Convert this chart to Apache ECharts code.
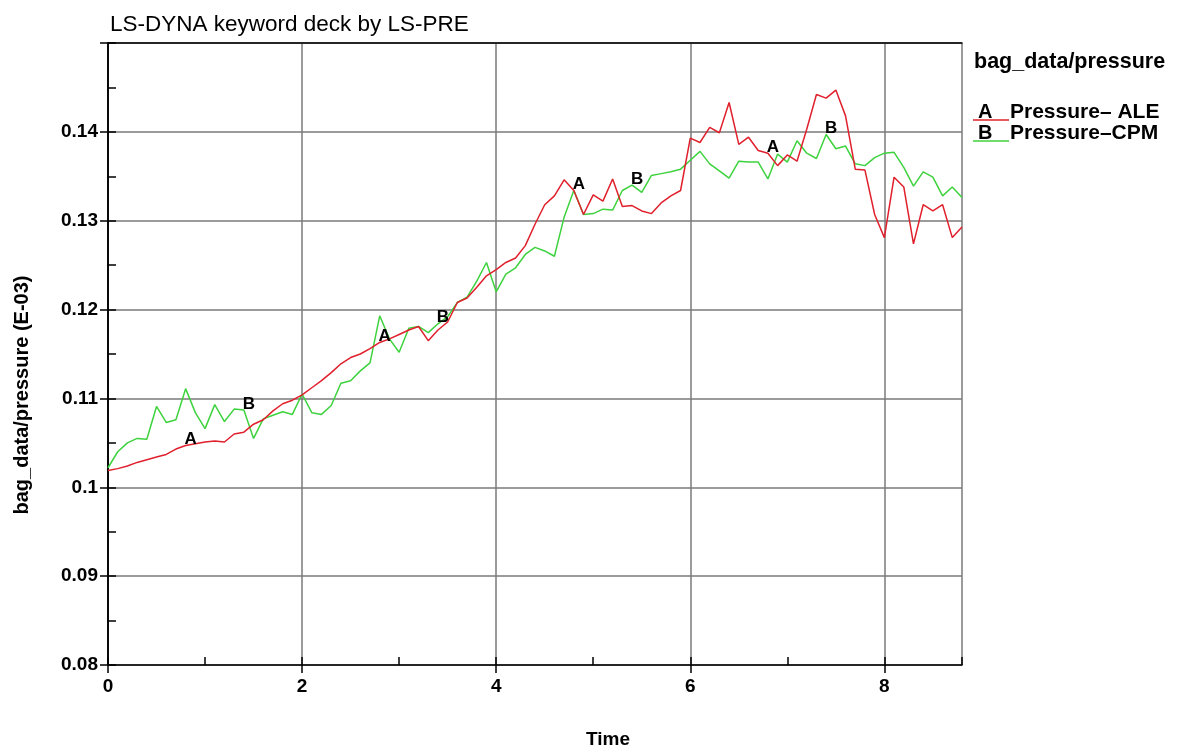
<!DOCTYPE html>
<html><head><meta charset="utf-8">
<script src="https://cdn.jsdelivr.net/npm/echarts@6/dist/echarts.min.js"></script>
<style>html,body{margin:0;padding:0;background:#fff}#c{width:1180px;height:752px}</style>
</head><body><div id="c"></div>
<script>
// ---- data ----
const times = [0.0,0.1,0.2,0.3,0.4,0.5,0.6,0.7,0.8,0.9,1.0,1.1,1.2,1.3,1.4,1.5,1.6,1.7,1.8,1.9,
  2.0,2.1,2.2,2.3,2.4,2.5,2.6,2.7,2.8,2.9,3.0,3.1,3.2,3.3,3.4,3.5,3.6,3.7,3.8,3.9,
  4.0,4.1,4.2,4.3,4.4,4.5,4.6,4.7,4.8,4.9,5.0,5.1,5.2,5.3,5.4,5.5,5.6,5.7,5.8,5.9,
  6.0,6.1,6.2,6.3,6.4,6.5,6.6,6.7,6.8,6.9,7.0,7.1,7.2,7.3,7.4,7.5,7.6,7.7,7.8,7.9,
  8.0,8.1,8.2,8.3,8.4,8.5,8.6,8.7,8.8];
const aleValues = [0.1019,0.1021,0.1024,0.1028,0.1031,0.1034,0.1037,0.1043,0.1047,0.1049,
  0.1051,0.1052,0.1051,0.1060,0.1062,0.1071,0.1076,0.1086,0.1094,0.1098,
  0.1104,0.1112,0.1120,0.1129,0.1139,0.1146,0.1150,0.1156,0.1163,0.1167,
  0.1172,0.1177,0.1181,0.1165,0.1177,0.1186,0.1208,0.1213,0.1225,0.1238,
  0.1245,0.1253,0.1258,0.1272,0.1296,0.1318,0.1328,0.1346,0.1334,0.1307,
  0.1329,0.1322,0.1347,0.1316,0.1317,0.1311,0.1308,0.1320,0.1328,0.1334,
  0.1393,0.1388,0.1405,0.1399,0.1433,0.1386,0.1394,0.1379,0.1376,0.1362,
  0.1374,0.1367,0.1403,0.1442,0.1438,0.1447,0.1418,0.1358,0.1357,0.1307,
  0.1281,0.1349,0.1338,0.1274,0.1318,0.1311,0.1318,0.1281,0.1293];
const cpmValues = [0.1022,0.1040,0.1050,0.1055,0.1054,0.1091,0.1073,0.1076,0.1111,0.1084,
  0.1066,0.1093,0.1074,0.1088,0.1087,0.1055,0.1077,0.1081,0.1085,0.1082,
  0.1105,0.1084,0.1082,0.1092,0.1117,0.1120,0.1131,0.1140,0.1193,0.1167,
  0.1152,0.1179,0.1181,0.1174,0.1184,0.1192,0.1208,0.1214,0.1232,0.1253,
  0.1220,0.1240,0.1247,0.1262,0.1270,0.1266,0.1260,0.1304,0.1334,0.1307,
  0.1308,0.1313,0.1312,0.1334,0.1340,0.1332,0.1351,0.1353,0.1355,0.1358,
  0.1368,0.1378,0.1364,0.1356,0.1348,0.1367,0.1366,0.1366,0.1347,0.1375,
  0.1366,0.1390,0.1376,0.1370,0.1397,0.1381,0.1384,0.1364,0.1362,0.1371,
  0.1376,0.1377,0.1360,0.1339,0.1355,0.1349,0.1328,0.1338,0.1326];
const aleLabelTimes = [0.8, 2.8, 4.8, 6.8];
const cpmLabelTimes = [1.4, 3.4, 5.4, 7.4];
const seriesNames = ['Pressure\u2013 ALE', 'Pressure\u2013CPM'];
const seriesLetters = ['A', 'B'];
const titleText = 'LS-DYNA keyword deck by LS-PRE';
const xName = 'Time';
const yName = 'bag_data/pressure (E-03)';
const legendTitle = 'bag_data/pressure';

const RED = '#e0202c', GREEN = '#3ed23e';
const FONT = '"Liberation Sans", Arial, sans-serif';

function pairs(vals){ return times.map((t,i)=>[t, vals[i]]); }
function marks(labelTimes, vals, letter){
  return labelTimes.map(lt=>{
    let idx = 0, best = 1e9;
    times.forEach((t,i)=>{ const d=Math.abs(t-lt); if(d<best){best=d; idx=i;} });
    return {coord:[times[idx], vals[idx]], value:letter};
  });
}
function markCfg(data){
  return {
    symbol:'circle', symbolSize:1, itemStyle:{color:'rgba(0,0,0,0)'},
    label:{show:true, formatter:p=>p.value, position:'inside', offset:[5,-6],
      color:'#000', fontWeight:'bold', fontSize:17, fontFamily:FONT},
    data:data
  };
}

const chart = echarts.init(document.getElementById('c'), null, {renderer:'canvas'});
const gridLine = {show:true, lineStyle:{color:'#7a7a7a', width:1.5}};
const blackLine = {show:true, lineStyle:{color:'#000', width:1.5}};
chart.setOption({
  animation:false,
  backgroundColor:'#fff',
  title:{text:titleText, left:105, top:8,
    textStyle:{fontFamily:FONT, fontSize:22.5, fontWeight:'normal', color:'#000'}},
  grid:{left:108, right:218, top:43, bottom:87, containLabel:false},
  xAxis:[
    {type:'value', min:0, max:8.8, interval:2,
      axisLine:blackLine,
      axisTick:{show:true, inside:false, length:8, lineStyle:{color:'#000', width:1.5}},
      axisLabel:{showMaxLabel:false, margin:12, color:'#000', fontWeight:'bold', fontSize:19, fontFamily:FONT},
      splitLine:gridLine},
    {type:'value', min:0, max:8.8, interval:1, position:'bottom',
      axisLine:{show:false}, axisLabel:{show:false}, splitLine:{show:false},
      axisTick:{show:true, inside:true, length:8, lineStyle:{color:'#000', width:1.5}}},
    {type:'value', min:0, max:8.8, interval:2, position:'top',
      axisLine:blackLine, axisLabel:{show:false}, splitLine:{show:false}, axisTick:{show:false}}
  ],
  yAxis:[
    {type:'value', min:0.08, max:0.15, interval:0.01,
      axisLine:blackLine,
      axisTick:{show:true, inside:false, length:8, lineStyle:{color:'#000', width:1.5}},
      axisLabel:{showMaxLabel:false, margin:10, color:'#000', fontWeight:'bold', fontSize:19, fontFamily:FONT,
        formatter:v=>String(parseFloat(v.toFixed(3)))},
      splitLine:gridLine},
    {type:'value', min:0.08, max:0.15, interval:0.005, position:'left',
      axisLine:{show:false}, axisLabel:{show:false}, splitLine:{show:false},
      axisTick:{show:true, inside:true, length:8, lineStyle:{color:'#000', width:1.5}}},
    {type:'value', min:0.08, max:0.15, interval:0.01, position:'right',
      axisLine:blackLine, axisLabel:{show:false}, splitLine:{show:false},
      axisTick:{show:true, inside:true, length:8, lineStyle:{color:'#000', width:1.5}}}
  ],
  series:[
    {name:seriesNames[0], type:'line', data:pairs(aleValues), showSymbol:false, symbol:'none',
      lineStyle:{color:RED, width:1.5}, itemStyle:{color:RED}, z:3,
      markPoint:markCfg(marks(aleLabelTimes, aleValues, seriesLetters[0]))},
    {name:seriesNames[1], type:'line', data:pairs(cpmValues), showSymbol:false, symbol:'none',
      lineStyle:{color:GREEN, width:1.5}, itemStyle:{color:GREEN}, z:2,
      markPoint:markCfg(marks(cpmLabelTimes, cpmValues, seriesLetters[1]))}
  ],
  graphic:[
    {type:'text', x:608, y:740, style:{text:xName, fill:'#000', font:'bold 19px '+FONT, textAlign:'center', textVerticalAlign:'middle'}},
    {type:'text', x:22, y:395, rotation:Math.PI/2, style:{text:yName, fill:'#000', font:'bold 20px '+FONT, textAlign:'center', textVerticalAlign:'middle'}},
    {type:'text', x:974, y:62, style:{text:legendTitle, fill:'#000', font:'bold 21.5px '+FONT, textAlign:'left', textVerticalAlign:'middle'}},
    {type:'line', shape:{x1:973, y1:120, x2:1009, y2:120}, style:{stroke:RED, lineWidth:1.5}},
    {type:'text', x:978, y:112, style:{text:seriesLetters[0], fill:'#000', font:'bold 20px '+FONT, textAlign:'left', textVerticalAlign:'middle'}},
    {type:'text', x:1010, y:112, style:{text:seriesNames[0], fill:'#000', font:'bold 21px '+FONT, textAlign:'left', textVerticalAlign:'middle'}},
    {type:'line', shape:{x1:973, y1:141, x2:1009, y2:141}, style:{stroke:GREEN, lineWidth:1.5}},
    {type:'text', x:978, y:133, style:{text:seriesLetters[1], fill:'#000', font:'bold 20px '+FONT, textAlign:'left', textVerticalAlign:'middle'}},
    {type:'text', x:1010, y:133, style:{text:seriesNames[1], fill:'#000', font:'bold 21px '+FONT, textAlign:'left', textVerticalAlign:'middle'}}
  ]
});
</script>
</body></html>
